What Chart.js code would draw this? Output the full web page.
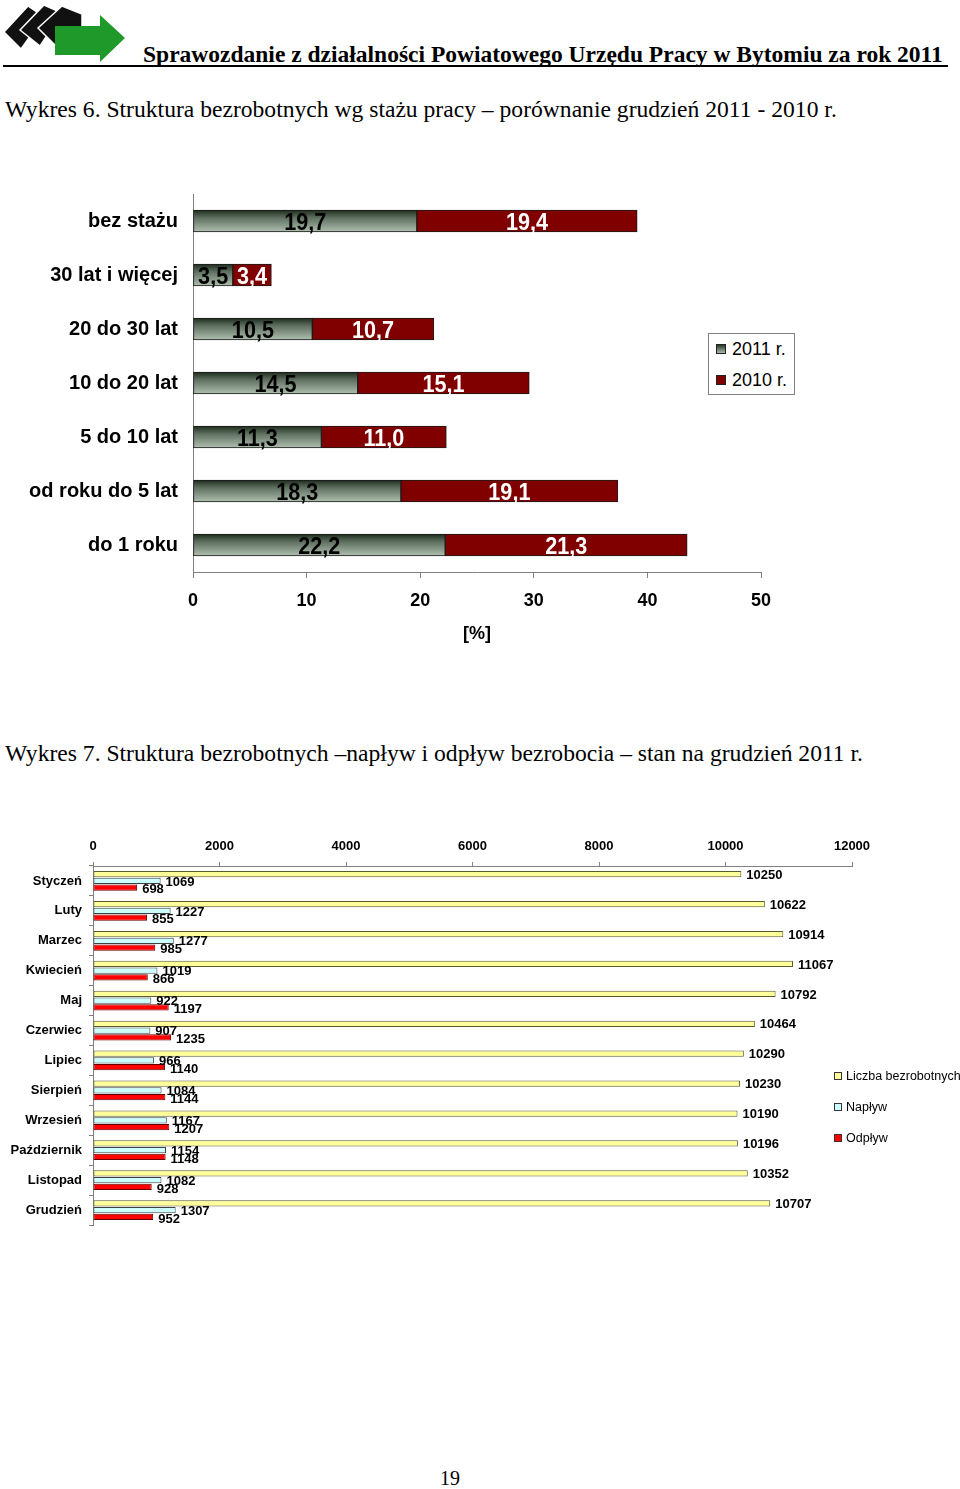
<!DOCTYPE html>
<html><head><meta charset="utf-8">
<script src="https://cdn.jsdelivr.net/npm/chart.js@4.4.1/dist/chart.umd.min.js"></script>
<style>
html,body{margin:0;padding:0;background:#fff;}
#page{position:relative;width:960px;height:1489px;overflow:hidden;font-family:'Liberation Serif','Times New Roman',serif;color:#000;}
.abs{position:absolute;white-space:nowrap;}
.sans{font-family:'Liberation Sans',Arial,sans-serif;}
.mk{position:absolute;box-sizing:border-box;}
</style></head><body><div id="page">

<svg class="abs" style="left:0;top:0" width="130" height="66" viewBox="0 0 130 66">
  <polygon points="4,32 28,6 44,17 21,49" fill="#111" stroke="#fff" stroke-width="1.5"/>
  <polygon points="20,30 44,5 62,13 40,46" fill="#111" stroke="#fff" stroke-width="1.5"/>
  <polygon points="38,28 62,6 82,14 82,42 56,46" fill="#111" stroke="#fff" stroke-width="1.5"/>
  <polygon points="55,26 100,26 100,15 125,38 100,62 100,55 55,55" fill="#1f9a2a"/>
</svg>
<div class="abs" style="left:143px;top:40px;font-weight:bold;font-size:23.5px;line-height:28px;">Sprawozdanie z działalności Powiatowego Urzędu Pracy w Bytomiu za rok 2011</div>
<div class="abs" style="left:3px;top:65px;width:945px;height:2px;background:#000"></div>

<div class="abs" style="left:5px;top:95px;font-size:23.6px;line-height:28px">Wykres 6. Struktura bezrobotnych wg stażu pracy – porównanie grudzień 2011 - 2010 r.</div>

<canvas id="c1" class="abs" style="left:0;top:190px" width="960" height="470"></canvas>
<div class="abs sans" style="left:708px;top:333px;width:87px;height:62px;box-sizing:border-box;border:1px solid #808080;background:#fff;font-size:18px;">
  <div class="mk" style="left:7px;top:10px;width:10px;height:10px;border:1px solid #222;background:linear-gradient(#2a3a2a,#a9b9aa)"></div>
  <div class="abs" style="left:23px;top:4px;line-height:22px">2011 r.</div>
  <div class="mk" style="left:7px;top:41px;width:10px;height:10px;border:1px solid #222;background:#800000"></div>
  <div class="abs" style="left:23px;top:35px;line-height:22px">2010 r.</div>
</div>

<div class="abs" style="left:5px;top:739px;font-size:23.6px;line-height:28px">Wykres 7. Struktura bezrobotnych –napływ i odpływ bezrobocia – stan na grudzień 2011 r.</div>

<canvas id="c2" class="abs" style="left:0;top:830px" width="960" height="400"></canvas>
<div class="abs sans" style="left:834px;top:1066px;font-size:12.5px;">
  <div class="mk" style="left:0;top:6px;width:8px;height:8px;border:1px solid #333;background:#ffff99"></div>
  <div class="abs" style="left:12px;top:2px;line-height:16px">Liczba bezrobotnych</div>
  <div class="mk" style="left:0;top:37px;width:8px;height:8px;border:1px solid #333;background:#ccffff"></div>
  <div class="abs" style="left:12px;top:33px;line-height:16px">Napływ</div>
  <div class="mk" style="left:0;top:68px;width:8px;height:8px;border:1px solid #333;background:#ff0000"></div>
  <div class="abs" style="left:12px;top:64px;line-height:16px">Odpływ</div>
</div>

<div class="abs" style="left:440px;top:1466px;font-size:20px;line-height:24px">19</div>
</div>
<script>
// ---- Chart 1 data ----
const stazCategories = ['bez stażu','30 lat i więcej','20 do 30 lat','10 do 20 lat','5 do 10 lat','od roku do 5 lat','do 1 roku'];
const values2011 = [19.7, 3.5, 10.5, 14.5, 11.3, 18.3, 22.2];
const values2010 = [19.4, 3.4, 10.7, 15.1, 11.0, 19.1, 21.3];
const percentTicks = [0, 10, 20, 30, 40, 50];
const seriesNames1 = ['2011 r.', '2010 r.'];

// ---- Chart 2 data ----
const months = ['Styczeń','Luty','Marzec','Kwiecień','Maj','Czerwiec','Lipiec','Sierpień','Wrzesień','Październik','Listopad','Grudzień'];
const liczbaBezrobotnych = [10250,10622,10914,11067,10792,10464,10290,10230,10190,10196,10352,10707];
const naplyw = [1069,1227,1277,1019,922,907,966,1084,1167,1154,1082,1307];
const odplyw = [698,855,985,866,1197,1235,1140,1144,1207,1148,928,952];
const countTicks = [0,2000,4000,6000,8000,10000,12000];
const seriesNames2 = ['Liczba bezrobotnych','Napływ','Odpływ'];

const SANS = "'Liberation Sans', Arial, sans-serif";
const BAR1 = 22;

function gray2011(c) {
  const chart = c.chart;
  if (!chart.chartArea || c.type !== 'data' || !chart.scales.y) return '#8a9a8a';
  const y = chart.scales.y.getPixelForValue(c.dataIndex);
  const g = chart.ctx.createLinearGradient(0, y - BAR1/2, 0, y + BAR1/2);
  g.addColorStop(0, '#1c2a1c');
  g.addColorStop(0.35, '#5e6f5f');
  g.addColorStop(1, '#b0c0b0');
  return g;
}

const labels1 = {
  id: 'labels1',
  afterDatasetsDraw(chart) {
    const ctx = chart.ctx;
    ctx.save();
    ctx.font = 'bold 24px ' + SANS;
    ctx.textAlign = 'center';
    ctx.textBaseline = 'alphabetic';
    chart.data.datasets.forEach((ds, di) => {
      ctx.fillStyle = di === 0 ? '#000' : '#fff';
      chart.getDatasetMeta(di).data.forEach((el, i) => {
        const cx = (el.x + el.base) / 2;
        const txt = ds.data[i].toFixed(1).replace('.', ',');
        ctx.save();
        ctx.translate(cx, el.y + 8.6);
        ctx.scale(0.9, 1);
        ctx.fillText(txt, 0, 0);
        ctx.restore();
      });
    });
    ctx.restore();
  }
};

new Chart(document.getElementById('c1'), {
  type: 'bar',
  data: {
    labels: stazCategories,
    datasets: [
      { label: seriesNames1[0], data: values2011, backgroundColor: gray2011, borderColor: '#1a1a1a', borderWidth: 1, borderSkipped: false, barThickness: BAR1 },
      { label: seriesNames1[1], data: values2010, backgroundColor: '#800000', borderColor: '#1a1a1a', borderWidth: 1, borderSkipped: false, barThickness: BAR1 }
    ]
  },
  options: {
    indexAxis: 'y', responsive: false, animation: false, devicePixelRatio: 1,
    layout: { padding: { left: 0, right: 199, top: 4, bottom: 0 } },
    plugins: { legend: { display: false }, tooltip: { enabled: false } },
    scales: {
      x: {
        stacked: true, min: percentTicks[0], max: percentTicks[percentTicks.length - 1],
        afterBuildTicks(s) { s.ticks = percentTicks.map(v => ({ value: v })); },
        ticks: { color: '#000', font: { family: SANS, size: 18, weight: 'bold' }, padding: 12, maxRotation: 0 },
        grid: { drawOnChartArea: false, drawTicks: true, tickLength: 6, color: '#808080' },
        border: { display: true, color: '#808080' },
        title: { display: true, text: '[%]', color: '#000', font: { family: SANS, size: 18, weight: 'bold' }, padding: { top: 0, bottom: 15 } },
        afterFit(s) { s.height = 88; s.paddingLeft = 0; s.paddingRight = 0; }
      },
      y: {
        stacked: true,
        ticks: { color: '#000', font: { family: SANS, size: 20, weight: 'bold' }, padding: 15 },
        grid: { display: false, drawTicks: false },
        border: { display: true, color: '#808080' },
        afterFit(s) { s.width = 193; s.paddingTop = 0; s.paddingBottom = 0; }
      }
    }
  },
  plugins: [labels1]
});

const labels2 = {
  id: 'labels2',
  afterDatasetsDraw(chart) {
    const ctx = chart.ctx;
    ctx.save();
    ctx.font = 'bold 13px ' + SANS;
    ctx.fillStyle = '#000';
    ctx.textAlign = 'left';
    ctx.textBaseline = 'alphabetic';
    chart.data.datasets.forEach((ds, di) => {
      chart.getDatasetMeta(di).data.forEach((el, i) => {
        ctx.fillText(String(ds.data[i]), el.x + 5, el.y + 4.7 + (di === 2 ? 1 : 0));
      });
    });
    ctx.restore();
  }
};

new Chart(document.getElementById('c2'), {
  type: 'bar',
  data: {
    labels: months,
    datasets: [
      { label: seriesNames2[0], data: liczbaBezrobotnych, backgroundColor: '#ffff99', borderColor: '#5a5a30', borderWidth: 1, borderSkipped: false },
      { label: seriesNames2[1], data: naplyw, backgroundColor: '#ccffff', borderColor: '#404040', borderWidth: 1, borderSkipped: false },
      { label: seriesNames2[2], data: odplyw, backgroundColor: '#ff0000', borderColor: '#600000', borderWidth: 1, borderSkipped: false }
    ]
  },
  options: {
    indexAxis: 'y', responsive: false, animation: false, devicePixelRatio: 1,
    datasets: { bar: { categoryPercentage: 0.68, barPercentage: 0.92 } },
    layout: { padding: { left: 0, right: 108, top: 0, bottom: 5 } },
    plugins: { legend: { display: false }, tooltip: { enabled: false } },
    scales: {
      x: {
        position: 'top', min: countTicks[0], max: countTicks[countTicks.length - 1],
        afterBuildTicks(s) { s.ticks = countTicks.map(v => ({ value: v })); },
        ticks: { color: '#000', font: { family: SANS, size: 13, weight: 'bold' }, padding: 8, maxRotation: 0, autoSkip: false, callback: v => String(v) },
        grid: { drawOnChartArea: false, drawTicks: true, tickLength: 4, color: '#808080' },
        border: { display: true, color: '#808080' },
        afterFit(s) { s.height = 36; s.paddingLeft = 0; s.paddingRight = 0; }
      },
      y: {
        ticks: { color: '#000', font: { family: SANS, size: 13, weight: 'bold' }, padding: 7, autoSkip: false },
        grid: { drawOnChartArea: false, drawTicks: true, tickLength: 4, color: '#808080', offset: true },
        border: { display: true, color: '#808080' },
        afterFit(s) { s.width = 93; s.paddingTop = 0; s.paddingBottom = 0; }
      }
    }
  },
  plugins: [labels2]
});
</script>
</body></html>
